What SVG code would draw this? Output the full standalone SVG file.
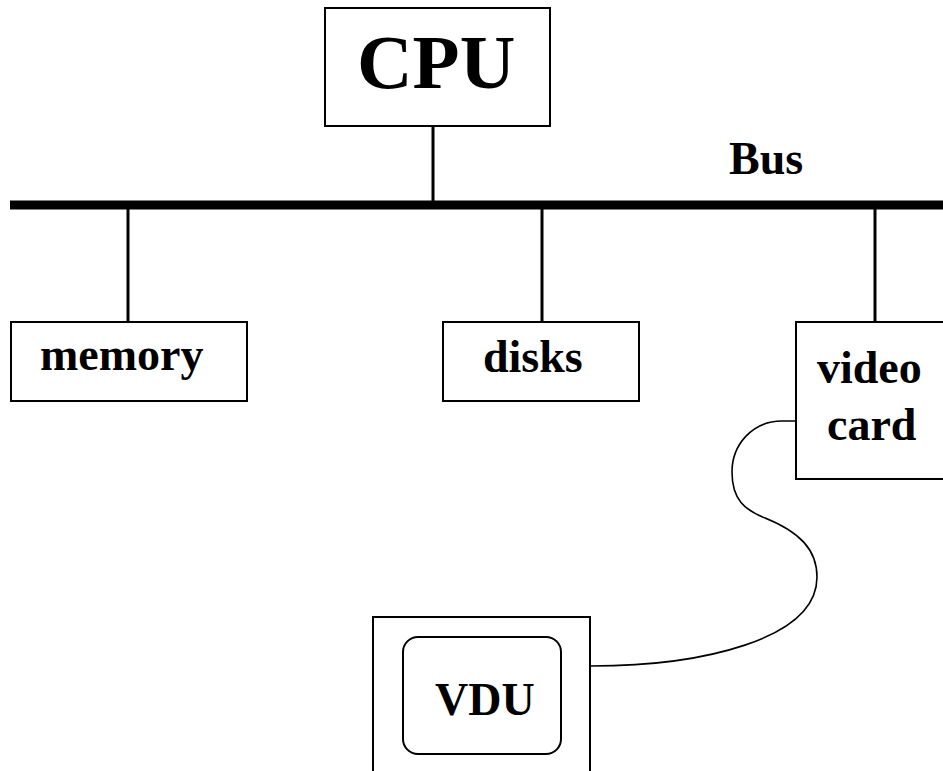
<svg xmlns="http://www.w3.org/2000/svg" width="943" height="771" viewBox="0 0 943 771">
<style>
.box{fill:#fff;stroke:#000;stroke-width:2}
.lbl{font-family:"Liberation Serif","Times New Roman",serif;font-weight:bold;font-size:46px;fill:#000}
.stem{stroke:#000;stroke-width:3;fill:none}
</style>
<rect width="943" height="771" fill="#fff"/>
<g id="connectors">
<line x1="10" y1="205" x2="943" y2="205" stroke="#000" stroke-width="9"/>
<line class="stem" x1="433" y1="126" x2="433" y2="205"/>
<line class="stem" x1="128" y1="205" x2="128" y2="322"/>
<line class="stem" x1="542" y1="205" x2="542" y2="322"/>
<line class="stem" x1="875" y1="205" x2="875" y2="322"/>
<path d="M796,421 L782,421 C752,421 732,445 732,472 C732,500 745,510 765,518 C800,532 817,550 817,577 C817,640 700,666 591,666" fill="none" stroke="#000" stroke-width="1.6"/>
</g>
<g id="bus-label"><text class="lbl" x="729" y="174">Bus</text></g>
<g id="cpu">
<rect class="box" x="325" y="8" width="225" height="118"/>
<text class="lbl" x="357" y="88" style="font-size:77px">CPU</text>
</g>
<g id="memory">
<rect class="box" x="11" y="322" width="236" height="79"/>
<text class="lbl" x="40" y="370">memory</text>
</g>
<g id="disks">
<rect class="box" x="443" y="322" width="196" height="79"/>
<text class="lbl" x="483" y="372">disks</text>
</g>
<g id="videocard">
<rect class="box" x="796" y="322" width="160" height="157"/>
<text class="lbl" x="817" y="383">video</text>
<text class="lbl" x="827" y="440">card</text>
</g>
<g id="vdu">
<rect class="box" x="373" y="617" width="217" height="200"/>
<rect class="box" x="403" y="637" width="158" height="117" rx="15"/>
<text class="lbl" x="435" y="715">VDU</text>
</g>
</svg>
